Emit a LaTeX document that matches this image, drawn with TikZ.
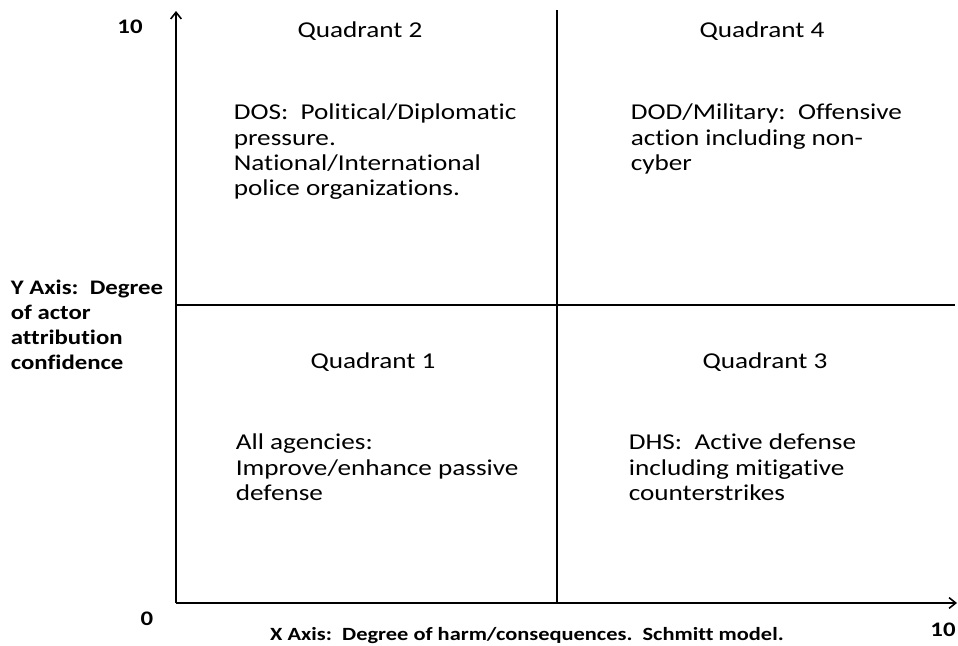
\documentclass[tikz,border=0pt]{standalone}
\usepackage{fontspec}
\setmainfont{Carlito}[FakeStretch=1.2,Ligatures={NoCommon}]
\usetikzlibrary{arrows.meta}

\tikzset{
  quadtitle/.style={anchor=base, inner sep=0pt, font=\fontsize{17}{19.1}\selectfont},
  quadtext/.style={anchor=north west, align=left, inner sep=0pt, font=\fontsize{17}{19.1}\selectfont},
  axislabel/.style={inner sep=0pt, font=\bfseries\fontsize{15.5}{18.8}\selectfont},
  axisarrow/.style={-{Straight Barb[length=5pt,width=8pt]}},
}

\begin{document}
\begin{tikzpicture}[x=0.75pt,y=-0.75pt,line width=1.2pt]
		\useasboundingbox (0,0) rectangle (958,646);
		\coordinate (origin) at (176,603);
		\coordinate (ytip) at (176,11);
		\coordinate (xtip) at (957,603);
		\coordinate (midtop) at (557,10);
		\coordinate (midbot) at (557,603);
		\coordinate (midleft) at (176,305);
		\coordinate (midright) at (955,305);
		%%%
		\draw[axisarrow] (origin) -- (ytip);
		\draw[axisarrow] (origin) -- (xtip);
		\draw (midtop) -- (midbot);
		\draw (midleft) -- (midright);
		%%%
		\node[axislabel, anchor=base] (ymax) at (130,33) {10};
		\node[axislabel, anchor=base] (zero) at (147,625) {0};
		\node[axislabel, anchor=base] (xmax) at (943,636) {10};
		\node[axislabel, anchor=base, font=\bfseries\fontsize{14}{17}\selectfont] (xname) at (527,640) {X Axis:\ \ Degree of harm/consequences.\ \ Schmitt model.};
		\node[axislabel, anchor=north west, align=left] (yname) at (10,279) {Y Axis:\ \ Degree\\of actor\\attribution\\confidence};
		%%%
		\node[quadtitle] (qtwo) at (360,37) {Quadrant 2};
		\node[quadtitle] (qfour) at (762,37) {Quadrant 4};
		\node[quadtitle] (qone) at (373,368) {Quadrant 1};
		\node[quadtitle] (qthree) at (765,368) {Quadrant 3};
		%%%
		\node[quadtext] (dos) at (233,103) {DOS:\ \ Political/Diplomatic\\pressure.\\National/International\\police organizations.};
		\node[quadtext] (dod) at (630,103) {DOD/Military:\ \ Offensive\\action including non-\\cyber};
		\node[quadtext] (all) at (235,433) {All agencies:\\Improve/enhance passive\\defense};
		\node[quadtext] (dhs) at (628,433) {DHS:\ \ Active defense\\including mitigative\\counterstrikes};
\end{tikzpicture}
\end{document}
